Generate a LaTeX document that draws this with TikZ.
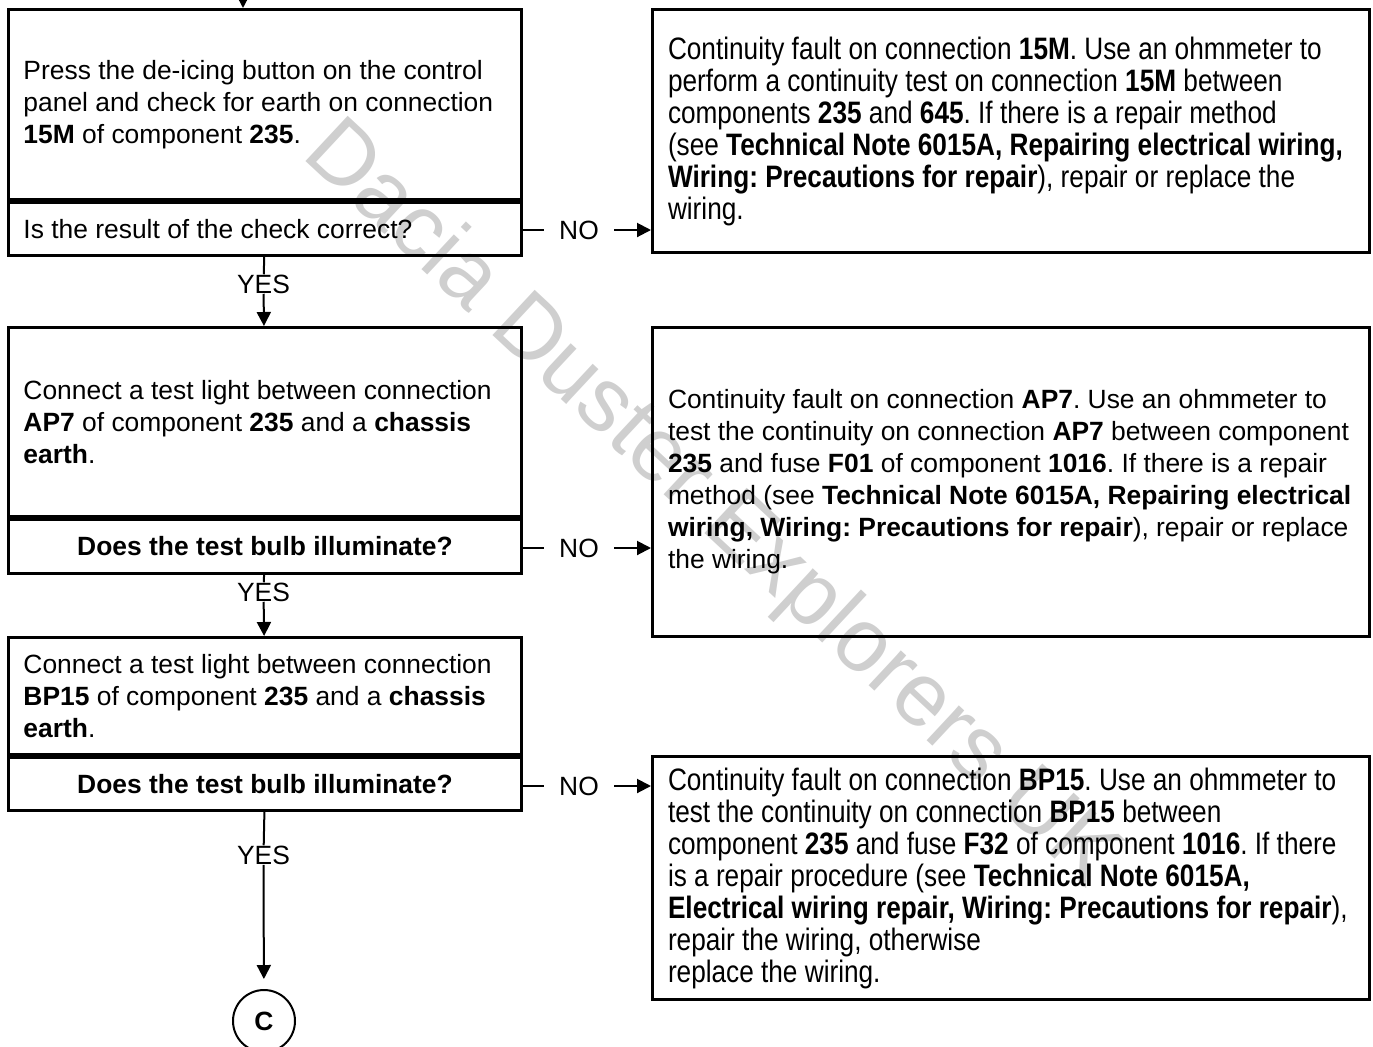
\documentclass[tikz,border=0pt]{standalone}
\usepackage{fontspec}
\setmainfont{Liberation Sans}
\newfontfamily\narrowsans[FakeStretch=0.845]{Liberation Sans}
\usetikzlibrary{arrows.meta,positioning}
\frenchspacing
\newcommand{\bodysize}{\fontsize{13.2pt}{16pt}\selectfont}
\newcommand{\narrowsize}{\narrowsans\fontsize{15.5pt}{16pt}\selectfont}
\tikzset{
  stepbox/.style={draw, line width=1.5pt, inner xsep=7.5pt, inner ysep=0pt,
    text width=241.5pt, minimum height=#1, align=flush left, font=\bodysize},
  faultbox/.style={draw, line width=1.5pt, inner xsep=7.75pt, inner ysep=0pt,
    text width=343pt, minimum height=#1, align=flush left, anchor=north west, font=\bodysize},
  flow/.style={line width=1pt, -{Triangle[length=7pt,width=7pt]}},
  link/.style={line width=1pt},
  answer/.style={inner sep=0pt, font=\bodysize},
  reply/.style={inner xsep=7.5pt, inner ysep=0pt, font=\bodysize}
}

\begin{document}
\begin{tikzpicture}[x=0.5pt,y=-0.5pt]
  \useasboundingbox (0,0) rectangle (1373,1046);
  % watermark behind everything
  \node[rotate=-43, text=black!19, font=\fontsize{45pt}{45pt}\selectfont] (mark) at (710,506) {Dacia Duster Explorers UK};

  % checks on the left
  \node[stepbox=95pt, anchor=north west] (step1) at (7,8)
    {Press the de-icing button on the control\\
     panel and check for earth on connection\\
     \textbf{15M} of component \textbf{235}.};
  \node[stepbox=26.5pt, below=0pt of step1] (q1) {Is the result of the check correct?};

  \node[stepbox=94.5pt, anchor=north west] (step2) at (7,326)
    {Connect a test light between connection\\
     \textbf{AP7} of component \textbf{235} and a \textbf{chassis}\\
     \textbf{earth}.};
  \node[stepbox=27pt, align=flush center, below=0pt of step2] (q2) {\textbf{Does the test bulb illuminate?}};

  \node[stepbox=58.5pt, anchor=north west] (step3) at (7,636)
    {Connect a test light between connection\\
     \textbf{BP15} of component \textbf{235} and a \textbf{chassis}\\
     \textbf{earth}.};
  \node[stepbox=26.5pt, align=flush center, below=0pt of step3] (q3) {\textbf{Does the test bulb illuminate?}};

  \node[circle, draw, line width=1pt, minimum size=31pt, inner sep=0pt,
        font=\bfseries\bodysize] (conn) at (264,1021) {C};

  % faults on the right
  \node[faultbox=121.5pt, font=\narrowsize] (fault1) at (651,8)
    {Continuity fault on connection \textbf{15M}. Use an ohmmeter to\\
     perform a continuity test on connection \textbf{15M} between\\
     components \textbf{235} and \textbf{645}. If there is a repair method\\
     (see \textbf{Technical Note 6015A, Repairing electrical wiring,}\\
     \textbf{Wiring: Precautions for repair}), repair or replace the\\
     wiring.};
  \node[faultbox=154.5pt] (fault2) at (651,326)
    {Continuity fault on connection \textbf{AP7}. Use an ohmmeter to\\
     test the continuity on connection \textbf{AP7} between component\\
     \textbf{235} and fuse \textbf{F01} of component \textbf{1016}. If there is a repair\\
     method (see \textbf{Technical Note 6015A, Repairing electrical}\\
     \textbf{wiring, Wiring: Precautions for repair}), repair or replace\\
     the wiring.};
  \node[faultbox=121.5pt, font=\narrowsize] (fault3) at (651,755)
    {Continuity fault on connection \textbf{BP15}. Use an ohmmeter to\\
     test the continuity on connection \textbf{BP15} between\\
     component \textbf{235} and fuse \textbf{F32} of component \textbf{1016}. If there\\
     is a repair procedure (see \textbf{Technical Note 6015A,}\\
     \textbf{Electrical wiring repair, Wiring: Precautions for repair}),\\
     repair the wiring, otherwise\\
     replace the wiring.};

  % answers
  \node[answer] (yes1) at (263.5,284) {YES};
  \node[answer] (yes2) at (263.5,592) {YES};
  \node[answer] (yes3) at (263.5,855) {YES};
  \node[reply] (no1) at (579,230) {NO};
  \node[reply] (no2) at (579,548) {NO};
  \node[reply] (no3) at (579,786) {NO};

  % connectors
  \coordinate (entry) at (243,-30);
  \draw[flow] (entry) -- (entry |- step1.north);
  \draw[link] (q1) -- (yes1);
  \draw[flow] (yes1) -- (step2);
  \draw[link] (q2) -- (yes2);
  \draw[flow] (yes2) -- (step3);
  \draw[link] (q3) -- (yes3);
  \draw[flow, shorten >=5pt] (yes3) -- (conn);
  \draw[link] (q1.east |- no1) -- (no1);
  \draw[flow] (no1) -- (fault1.west |- no1);
  \draw[link] (q2.east |- no2) -- (no2);
  \draw[flow] (no2) -- (fault2.west |- no2);
  \draw[link] (q3.east |- no3) -- (no3);
  \draw[flow] (no3) -- (fault3.west |- no3);
\end{tikzpicture}
\end{document}
